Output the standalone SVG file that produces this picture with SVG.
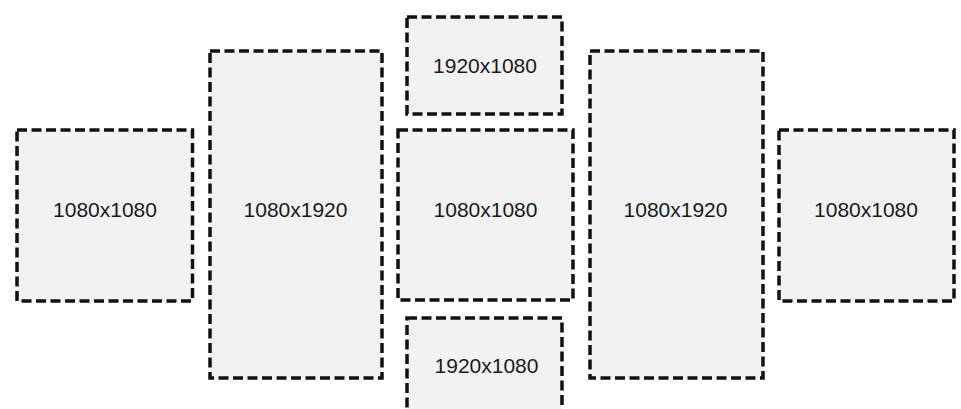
<svg xmlns="http://www.w3.org/2000/svg" width="961" height="409" viewBox="0 0 961 409">
<style>
.box{fill:#f2f2f2;stroke:#111;stroke-width:3.5;stroke-dasharray:10 4.5}
.lbl{font-family:"Liberation Sans",Arial,sans-serif;font-size:21px;fill:#1a1a1a;text-anchor:middle}
</style>
<rect width="961" height="409" fill="#fff"/>
<g id="connectors"></g>
<g id="node-left-square"><rect class="box" x="17" y="130" width="175.5" height="171"/><text class="lbl" x="105" y="217">1080x1080</text></g>
<g id="node-left-portrait"><rect class="box" x="210" y="51" width="172" height="327"/><text class="lbl" x="295.5" y="217">1080x1920</text></g>
<g id="node-top-landscape"><rect class="box" x="407" y="17" width="155" height="97"/><text class="lbl" x="485" y="73">1920x1080</text></g>
<g id="node-center-square"><rect class="box" x="398" y="130" width="175" height="170"/><text class="lbl" x="485.5" y="217">1080x1080</text></g>
<g id="node-bottom-landscape"><rect class="box" x="407" y="318" width="155" height="100"/><text class="lbl" x="486.5" y="373">1920x1080</text></g>
<g id="node-right-portrait"><rect class="box" x="590" y="51" width="173" height="327"/><text class="lbl" x="675.5" y="217">1080x1920</text></g>
<g id="node-right-square"><rect class="box" x="779" y="130" width="175" height="171"/><text class="lbl" x="866" y="217">1080x1080</text></g>
</svg>
